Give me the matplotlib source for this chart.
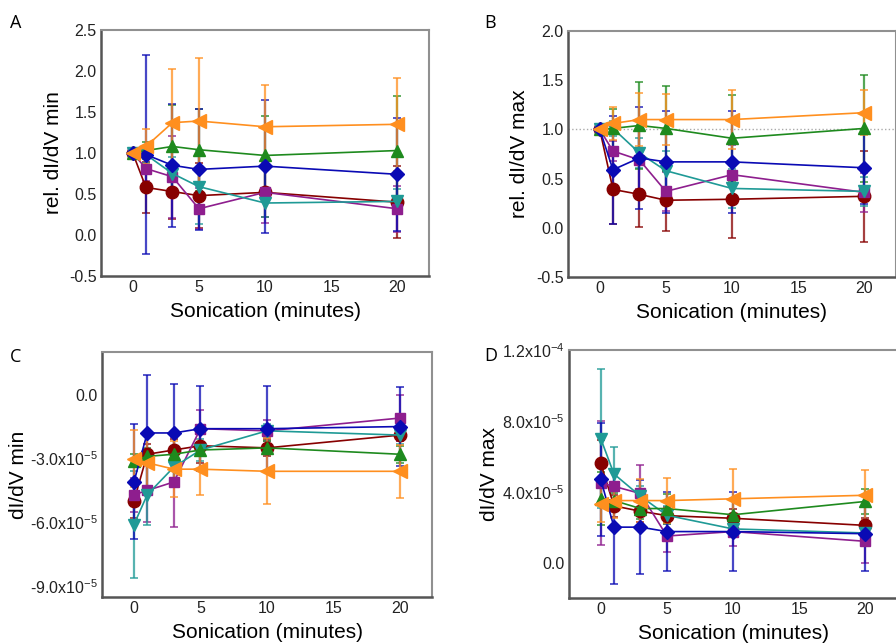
import numpy as np
import matplotlib
matplotlib.use("Agg")
import matplotlib.pyplot as plt

plt.rcParams['font.family'] = ['Liberation Sans', 'DejaVu Sans']
plt.rcParams['mathtext.default'] = 'regular'

# Sonication times (minutes)
x = [0, 1, 3, 5, 10, 20]

# Series styling order: orange, green, blue, teal, purple, dark red
names = ['orange', 'green', 'blue', 'teal', 'purple', 'red']
colors = {'orange': '#FF8F1F', 'green': '#1E8A1E', 'blue': '#0A0AB4',
          'teal': '#1F9A96', 'purple': '#8E1E8E', 'red': '#870000'}
markers = {'orange': '<', 'green': '^', 'blue': 'D',
           'teal': 'v', 'purple': 's', 'red': 'o'}
msizes = {'orange': 9.5, 'green': 9, 'blue': 7.5, 'teal': 9, 'purple': 7.5, 'red': 9}

# Panel A: rel. dI/dV min
a_vals = {
    'orange': [1.0, 1.08, 1.37, 1.39, 1.32, 1.35],
    'green': [1.0, 1.03, 1.08, 1.04, 0.97, 1.03],
    'blue': [1.0, 0.98, 0.85, 0.80, 0.84, 0.74],
    'teal': [1.0, 0.98, 0.75, 0.59, 0.39, 0.41],
    'purple': [1.0, 0.81, 0.71, 0.32, 0.52, 0.32],
    'red': [1.0, 0.58, 0.53, 0.48, 0.52, 0.40],
}
a_err = {
    'orange': [0, 0.21, 0.65, 0.77, 0.51, 0.57],
    'green': [0, 0.10, 0.51, 0.50, 0.48, 0.66],
    'blue': [0, 1.21, 0.75, 0.74, 0.81, 0.69],
    'teal': [0, 0.10, 0.20, 0.45, 0.17, 0.15],
    'purple': [0, 0.15, 0.50, 0.25, 0.37, 0.28],
    'red': [0, 0.31, 0.33, 0.40, 0.30, 0.44],
}

# Panel B: rel. dI/dV max
b_vals = {
    'orange': [1.0, 1.06, 1.10, 1.10, 1.10, 1.17],
    'green': [1.0, 1.01, 1.04, 1.01, 0.91, 1.01],
    'blue': [1.0, 0.59, 0.71, 0.67, 0.67, 0.61],
    'teal': [1.0, 1.01, 0.76, 0.58, 0.40, 0.37],
    'purple': [1.0, 0.78, 0.69, 0.37, 0.54, 0.36],
    'red': [1.0, 0.39, 0.34, 0.28, 0.29, 0.32],
}
b_err = {
    'orange': [0, 0.17, 0.27, 0.26, 0.30, 0.23],
    'green': [0, 0.20, 0.44, 0.43, 0.44, 0.54],
    'blue': [0, 0.55, 0.52, 0.52, 0.52, 0.37],
    'teal': [0, 0.08, 0.15, 0.20, 0.20, 0.15],
    'purple': [0, 0.10, 0.30, 0.20, 0.30, 0.20],
    'red': [0, 0.35, 0.33, 0.31, 0.39, 0.46],
}

# Panel C: dI/dV min (units of 1e-5)
c_vals = {
    'orange': [-3.0, -3.2, -3.5, -3.5, -3.6, -3.6],
    'green': [-3.1, -2.9, -2.8, -2.6, -2.5, -2.8],
    'blue': [-4.1, -1.8, -1.8, -1.6, -1.6, -1.5],
    'teal': [-6.1, -4.7, -3.4, -2.6, -1.7, -1.9],
    'purple': [-4.7, -4.5, -4.1, -1.6, -1.7, -1.1],
    'red': [-5.0, -2.8, -2.6, -2.4, -2.5, -1.9],
}
c_err = {
    'orange': [1.35, 1.30, 1.30, 1.20, 1.55, 1.25],
    'green': [0.30, 0.40, 0.30, 0.30, 0.30, 0.40],
    'blue': [2.70, 2.70, 2.30, 2.00, 2.00, 1.85],
    'teal': [2.50, 1.40, 0.70, 0.50, 0.30, 0.40],
    'purple': [0.80, 1.50, 2.10, 0.90, 0.50, 1.10],
    'red': [0.80, 0.50, 0.50, 0.80, 0.40, 0.30],
}

# Panel D: dI/dV max (units of 1e-5)
d_vals = {
    'orange': [3.3, 3.5, 3.5, 3.5, 3.6, 3.8],
    'green': [3.6, 3.5, 3.05, 3.05, 2.7, 3.45],
    'blue': [4.7, 2.0, 2.0, 1.75, 1.75, 1.63],
    'teal': [7.0, 5.0, 3.75, 2.67, 1.9, 1.67],
    'purple': [4.5, 4.3, 3.9, 1.5, 1.75, 1.2],
    'red': [5.6, 3.2, 2.9, 2.65, 2.5, 2.1],
}
d_err = {
    'orange': [1.0, 1.0, 1.2, 1.25, 1.7, 1.4],
    'green': [1.5, 0.4, 0.6, 0.8, 0.9, 0.7],
    'blue': [3.2, 3.2, 2.65, 2.25, 2.25, 2.1],
    'teal': [3.9, 1.5, 0.6, 0.5, 0.3, 0.3],
    'purple': [3.5, 0.9, 1.6, 0.9, 0.8, 1.2],
    'red': [1.3, 0.6, 0.6, 0.5, 0.5, 0.4],
}

fig = plt.figure(figsize=(8.96, 6.44), dpi=100)

W = 328 / 896
axA = fig.add_axes([101 / 896, 1 - 276 / 644, W, 246 / 644])
axB = fig.add_axes([568 / 896, 1 - 277 / 644, W, 246 / 644])
axC = fig.add_axes([102 / 896, 1 - 597 / 644, 330 / 896, 245 / 644])
axD = fig.add_axes([569 / 896, 1 - 598 / 644, W, 248 / 644])

draw_order = ['red', 'purple', 'teal', 'green', 'blue', 'orange']


def draw_panel(ax, vals, errs, scale=1.0):
    for n in draw_order:
        v = np.array(vals[n]) * scale
        e = np.array(errs[n]) * scale
        ax.errorbar(x, v, yerr=e, fmt='none', ecolor=colors[n], elinewidth=1.6,
                    capsize=3, capthick=1.3, alpha=0.75, zorder=2)
    for n in draw_order:
        v = np.array(vals[n]) * scale
        ax.plot(x, v, color=colors[n], lw=1.2, marker=markers[n],
                ms=msizes[n], mec=colors[n], zorder=3)
    ax.set_xlim(-2.4, 22.4)
    ax.set_xticks([0, 5, 10, 15, 20])
    ax.tick_params(length=0, pad=3, labelsize=11.5, labelcolor='#222222')
    for side in ['left', 'bottom']:
        ax.spines[side].set_color('#555555')
        ax.spines[side].set_linewidth(1.8)
    for side in ['top', 'right']:
        ax.spines[side].set_color('#909090')
        ax.spines[side].set_linewidth(1.5)
    ax.set_xlabel('Sonication (minutes)', fontsize=15)
    ax.xaxis.set_label_coords(0.5, -0.105)


draw_panel(axA, a_vals, a_err)
axA.set_ylim(-0.5, 2.5)
axA.set_yticks([-0.5, 0.0, 0.5, 1.0, 1.5, 2.0, 2.5])
axA.set_yticklabels(['-0.5', '0.0', '0.5', '1.0', '1.5', '2.0', '2.5'])
axA.set_ylabel('rel. dI/dV min', fontsize=15)
axA.yaxis.set_label_coords(-0.116, 0.5)

draw_panel(axB, b_vals, b_err)
axB.axhline(1.0, color='#aaaaaa', lw=1, ls=':', zorder=1)
axB.set_ylim(-0.5, 2.0)
axB.set_yticks([-0.5, 0.0, 0.5, 1.0, 1.5, 2.0])
axB.set_yticklabels(['-0.5', '0.0', '0.5', '1.0', '1.5', '2.0'])
axB.set_ylabel('rel. dI/dV max', fontsize=15)
axB.yaxis.set_label_coords(-0.119, 0.5)

draw_panel(axC, c_vals, c_err, scale=1e-5)
axC.set_ylim(-9.5e-5, 2.0e-5)
axC.set_yticks([-9e-5, -6e-5, -3e-5, 0.0])
axC.set_yticklabels(['-9.0x10$^{-5}$', '-6.0x10$^{-5}$', '-3.0x10$^{-5}$', '0.0'])
axC.set_ylabel('dI/dV min', fontsize=15)
axC.yaxis.set_label_coords(-0.224, 0.5)

draw_panel(axD, d_vals, d_err, scale=1e-5)
axD.set_ylim(-2.0e-5, 1.2e-4)
axD.set_yticks([0.0, 4e-5, 8e-5, 1.2e-4])
axD.set_yticklabels(['0.0', '4.0x10$^{-5}$', '8.0x10$^{-5}$', '1.2x10$^{-4}$'])
axD.set_ylabel('dI/dV max', fontsize=15)
axD.yaxis.set_label_coords(-0.213, 0.5)

for lab, (px, py) in zip('ABCD', [(10, 23), (484, 23), (10, 357), (484, 356)]):
    fig.text(px / 896, 1 - py / 644, lab, fontsize=13, family=['Open Sans', 'DejaVu Sans'],
             ha='left', va='center')

fig.savefig('out.png', dpi=100)
